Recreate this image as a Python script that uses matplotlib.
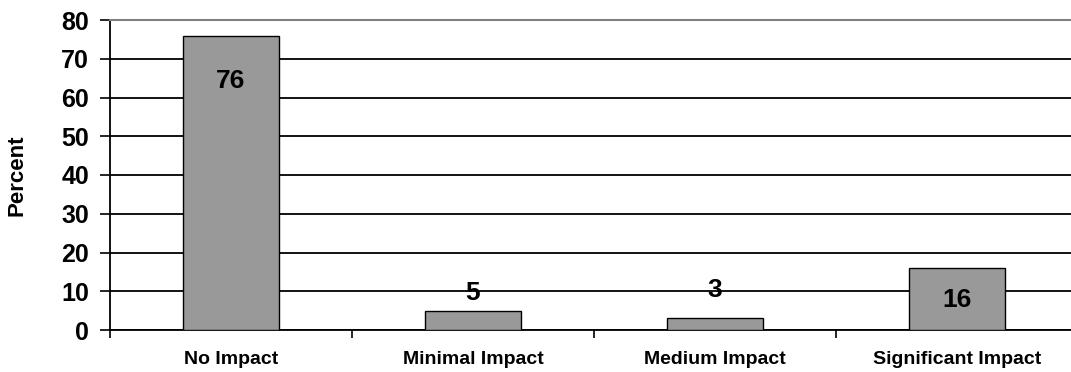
import matplotlib
matplotlib.use("Agg")
import matplotlib.pyplot as plt

categories = ["No Impact", "Minimal Impact", "Medium Impact", "Significant Impact"]
values = [76, 5, 3, 16]
# vertical offsets (pixels) of each value label relative to the bar top
label_offsets = [-45, 18, 28, -32]

plt.rcParams["font.family"] = ["Liberation Sans", "DejaVu Sans"]

fig = plt.figure(figsize=(10.71, 3.72), dpi=100)
W, H = 1071, 372
left, right, top, bottom = 110, 1078, 20, 330
ax = fig.add_axes([left / W, 1 - bottom / H, (right - left) / W, (bottom - top) / H])

x = list(range(len(categories)))
ax.bar(x, values, width=0.4, color="#999999", edgecolor="black", linewidth=1.0, zorder=3)

ax.set_xlim(-0.5, 3.5)
ax.set_ylim(0, 80)
ax.set_yticks(range(0, 81, 10))
ax.yaxis.grid(True, color="black", linewidth=1.3, zorder=0)
ax.set_axisbelow(True)

ax.set_xticks([i + 0.5 for i in range(-1, 4)])
ax.set_xticklabels([])
ax.set_xticks(x, minor=True)
ax.set_xticklabels(categories, minor=True, fontsize=14, fontweight="bold")
ax.tick_params(axis="x", which="minor", length=0, pad=15)
ax.tick_params(axis="x", which="major", length=6, width=1.2, direction="out")
ax.tick_params(axis="y", length=7, width=1.2, labelsize=18, pad=8)
for lbl in ax.get_yticklabels():
    lbl.set_fontweight("bold")

ax.spines["right"].set_visible(False)
ax.spines["top"].set_color("#808080")
ax.spines["top"].set_linewidth(1.5)
ax.spines["left"].set_linewidth(1.3)
ax.spines["bottom"].set_linewidth(1.3)

ax.set_ylabel("Percent", fontsize=16, fontweight="bold")
ax.yaxis.set_label_coords(-0.096, 0.5)
ax.yaxis.label.set_va("center")

for xi, v, off in zip(x, values, label_offsets):
    ax.annotate(str(v), (xi, v), xytext=(0, off * 72 / 100), textcoords="offset points",
                ha="center", va="center", fontsize=19, fontweight="bold", zorder=5)

fig.savefig("out.png", dpi=100)
